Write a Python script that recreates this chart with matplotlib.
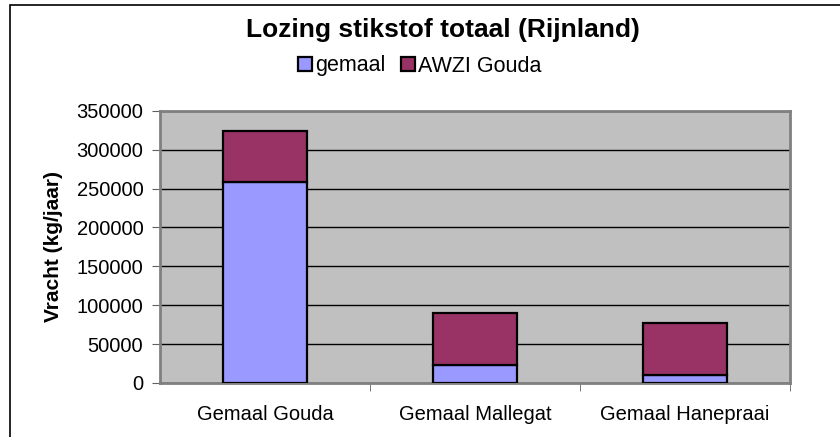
import numpy as np
import matplotlib.pyplot as plt
from matplotlib.patches import Rectangle

plt.rcParams['font.family'] = ['Liberation Sans', 'DejaVu Sans']

categories = ['Gemaal Gouda', 'Gemaal Mallegat', 'Gemaal Hanepraai']
gemaal = np.array([258000, 23000, 10000])
awzi = np.array([66000, 67500, 67000])
series_names = ['gemaal', 'AWZI Gouda']
yticks = np.arange(0, 350001, 50000)

fig = plt.figure(figsize=(8.4, 4.37), dpi=100)
ax = fig.add_axes([160/840, 1 - 383/437, 630/840, (383 - 110.7)/437])
ax.set_facecolor('#C0C0C0')

x = np.arange(len(categories))
ax.bar(x, gemaal, width=0.4, color='#9999FF', edgecolor='black', linewidth=1.6,
       label=series_names[0], zorder=3)
ax.bar(x, awzi, width=0.4, bottom=gemaal, color='#993366', edgecolor='black',
       linewidth=1.6, label=series_names[1], zorder=3)

ax.set_xlim(-0.5, 2.5)
ax.set_ylim(0, 350000)
ax.set_yticks(yticks)
ax.set_yticklabels([str(v) for v in yticks], fontsize=14.5)
ax.yaxis.grid(True, color='black', linewidth=1, zorder=1)
ax.set_axisbelow(True)

# category labels centred, tick marks between categories
ax.set_xticks(x)
ax.set_xticklabels(categories, fontsize=14.5)
ax.tick_params(axis='x', length=0, pad=16)
ax.set_xticks([0.5, 1.5, 2.5], minor=True)
ax.tick_params(axis='x', which='minor', length=6, color='#606060')
ax.tick_params(axis='y', length=6, color='#606060', pad=6)

for s in ax.spines.values():
    s.set_color('#808080')
    s.set_linewidth(2)

ax.set_ylabel('Vracht (kg/jaar)', fontsize=15, fontweight='bold', labelpad=10)

fig.text(443/840, 1 - 30/437, 'Lozing stikstof totaal (Rijnland)', fontsize=19,
         fontweight='bold', ha='center', va='center')
fig.legend(loc='center', bbox_to_anchor=(420/840, 1 - 66/437), ncol=2, frameon=False,
           fontsize=15.5, handlelength=0.65, handleheight=0.65, handletextpad=0.15,
           columnspacing=0.7, borderpad=0)

fig.add_artist(Rectangle((10/840, -0.05), 1.0, 1.05 - 5/437, transform=fig.transFigure,
                         fill=False, edgecolor='black', linewidth=1.2))

fig.savefig('out.png', dpi=100)
